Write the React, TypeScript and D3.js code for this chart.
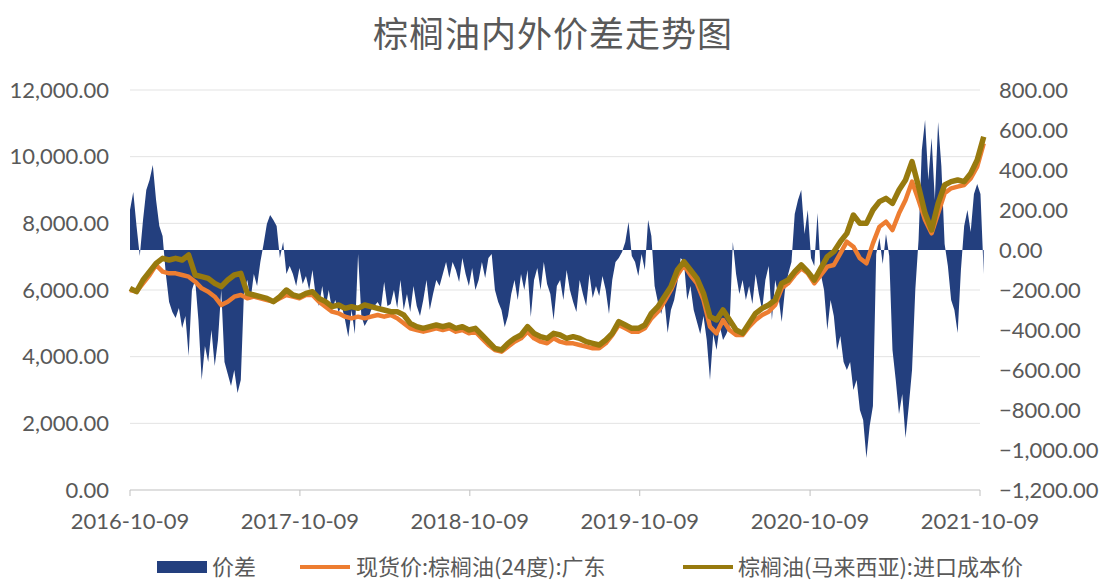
import React from "react";
import * as d3 from "d3";

const title = "棕榈油内外价差走势图";
const seriesNames = ["价差", "现货价:棕榈油(24度):广东", "棕榈油(马来西亚):进口成本价"];
const startDate = "2016-10-09";
const endDate = "2021-10-09";
const xTickLabels = ["2016-10-09", "2017-10-09", "2018-10-09", "2019-10-09", "2020-10-09", "2021-10-09"];
const leftTicks = [0, 2000, 4000, 6000, 8000, 10000, 12000];
const rightTicks = [-1200, -1000, -800, -600, -400, -200, 0, 200, 400, 600, 800];

// weekly spread (价差), right axis
const spread = [
  200, 290, 120, -30, 150, 300, 350, 425, 250, 120,
  70, -120, -260, -310, -340, -290, -390, -330, -530, -200,
  -150, -350, -650, -480, -560, -400, -580, -450, -200, -560,
  -620, -680, -600, -715, -650, -200, -150, -250, -120, -180,
  -60, 30, 130, 175, 150, 120, -40, 40, -120, -80,
  -120, -180, -90, -170, -130, -200, -100, -230, -280, -180,
  -290, -200, -300, -250, -310, -280, -350, -435, -300, -420,
  -20, -330, -380, -350, -300, -280, -260, -290, -160, -280,
  -270, -200, -290, -150, -300, -220, -310, -180, -280, -330,
  -250, -150, -300, -220, -150, -180, -120, -60, -140, -60,
  -100, -160, -40, -120, -180, -90, -200, -150, -60, -140,
  -40, -20, -200, -260, -300, -385, -330, -220, -150, -250,
  -120, -200, -100, -335, -150, -90, -200, -60, -170, -220,
  -350, -180, -150, -250, -100, -200, -260, -310, -150, -220,
  -280, -120, -240, -180, -230, -130, -200, -320, -150, -60,
  -40, -10, 40, 140, -30, -60, -130, -20, -100, 150,
  70, -180, -260, -320, -250, -415, -300, -250, -160, -40,
  -60, -250, -180, -300, -360, -420, -330, -450, -650, -420,
  -500, -380, -450, -420, -380, 40, -120, -220, -150, -250,
  -180, -270, -120, -220, -300, -150, -80, -350, -150, -230,
  -360, -200, -120, -60, 180, 250, 300, 80, 200, -40,
  -80, 185, -120, -200, -400, -250, -330, -500, -430, -560,
  -600, -560, -700, -650, -800, -850, -1040, -880, -780, -20,
  60, -70, 80, -30, -500, -650, -820, -720, -940, -780,
  -600, -200, 50, 500, 650, 350, 560, 250, 640, 420,
  30, -80, -250, -300, -415, -100, 120, 200, 90, 280,
  330, 280, -120,
];

// biweekly spot price Guangdong 24° palm oil, left axis
const spotGuangdong = [
  6000, 5950, 6200, 6450, 6750, 6550, 6500, 6500, 6450, 6400,
  6250, 6050, 5950, 5800, 5550, 5650, 5800, 5850, 5750, 5800,
  5750, 5700, 5650, 5750, 5850, 5800, 5750, 5850, 5850, 5650,
  5500, 5350, 5300, 5200, 5150, 5200, 5150, 5200, 5250, 5200,
  5250, 5150, 5000, 4850, 4800, 4750, 4800, 4850, 4800, 4850,
  4750, 4800, 4700, 4750, 4550, 4350, 4200, 4150, 4300, 4450,
  4550, 4750, 4550, 4450, 4400, 4550, 4450, 4400, 4400, 4350,
  4300, 4250, 4250, 4400, 4650, 4950, 4850, 4750, 4750, 4850,
  5150, 5350, 5650, 6000, 6450, 6750, 6450, 6200, 5700, 4900,
  4700, 5100, 4800, 4650, 4650, 4900, 5100, 5250, 5350, 5550,
  6050, 6200, 6450, 6650, 6500, 6200, 6450, 6700, 6750, 7100,
  7450, 7300, 6950, 6800, 7400, 7900, 8050, 7800, 8300, 8700,
  9250, 8700, 8100, 7700, 8300, 8900, 9050, 9100, 9150, 9350,
  9700, 10400,
];

// biweekly import cost Malaysian palm oil, left axis
const importCost = [
  6050, 5950, 6300, 6550, 6800, 6950, 6900, 6950, 6900, 7050,
  6450, 6400, 6350, 6200, 6100, 6300, 6450, 6500, 5900, 5850,
  5800, 5750, 5650, 5800, 6000, 5850, 5800, 5900, 5950, 5750,
  5650, 5500, 5550, 5450, 5500, 5450, 5550, 5500, 5450, 5400,
  5350, 5350, 5250, 5000, 4900, 4850, 4900, 4950, 4900, 4950,
  4850, 4900, 4800, 4850, 4650, 4450, 4250, 4200, 4400, 4550,
  4650, 4900, 4700, 4600, 4550, 4700, 4650, 4550, 4600, 4550,
  4450, 4400, 4350, 4500, 4700, 5050, 4950, 4850, 4850, 4950,
  5300, 5500, 5800, 6100, 6600, 6850, 6600, 6350, 5900, 5200,
  5100, 5400, 5100, 4800, 4700, 5000, 5300, 5450, 5550, 5700,
  6200, 6300, 6550, 6750, 6550, 6300, 6650, 7000, 7150, 7450,
  7700, 8250, 8000, 8000, 8400, 8650, 8750, 8600, 9000, 9300,
  9850, 9100, 8300, 7800, 8600, 9150, 9250, 9300, 9250, 9500,
  9900, 10600,
];

const W = 1101;
const H = 581;
const M = { left: 130, right: 980, top: 90, bottom: 490 };
const numFont = "Lato, 'Liberation Sans', 'Noto Sans CJK SC', sans-serif";
const cjkFont = "'Noto Sans CJK SC', Lato, sans-serif";

export default function App() {
  const parse = d3.timeParse("%Y-%m-%d");
  const t0 = parse(startDate)!;
  const t1 = parse(endDate)!;
  const x = d3.scaleTime().domain([t0, t1]).range([M.left, M.right]);
  const yL = d3.scaleLinear().domain([0, 12000]).range([M.bottom, M.top]);
  const yR = d3.scaleLinear().domain([-1200, 800]).range([M.bottom, M.top]);

  const spreadData = spread.map((v, i) => ({ d: d3.timeWeek.offset(t0, i), v }));
  const spotData = spotGuangdong.map((v, i) => ({ d: d3.timeWeek.offset(t0, i * 2), v }));
  const costData = importCost.map((v, i) => ({ d: d3.timeWeek.offset(t0, i * 2), v }));

  const area = d3
    .area<{ d: Date; v: number }>()
    .x((p) => x(p.d))
    .y0(yR(0))
    .y1((p) => yR(p.v));
  const line = d3
    .line<{ d: Date; v: number }>()
    .x((p) => x(p.d))
    .y((p) => yL(p.v));

  const fmt = d3.format(",.2f");
  const xTicks = xTickLabels.map((s) => parse(s)!);

  const navy = "#233F7E";
  const orange = "#ED7D31";
  const olive = "#977A0E";

  return (
    <svg width={W} height={H} style={{ position: "absolute", left: 0, top: 0, background: "#fff" }}>
      <text x={553} y={47} textAnchor="middle" fontFamily={cjkFont} fontSize={35} fill="#595959" letterSpacing={1}>
        {title}
      </text>
      {leftTicks.map((t) => (
        <line key={"g" + t} x1={M.left} x2={M.right} y1={yL(t)} y2={yL(t)} stroke={t === 0 ? "#BFBFBF" : "#E3E3E3"} strokeWidth={1} />
      ))}
      {xTicks.map((t, i) => (
        <line key={"xt" + i} x1={x(t)} x2={x(t)} y1={M.bottom} y2={M.bottom + 6} stroke="#BFBFBF" />
      ))}
      <path d={area(spreadData)!} fill={navy} />
      <path d={line(spotData)!} fill="none" stroke={orange} strokeWidth={4.5} strokeLinejoin="round" />
      <path d={line(costData)!} fill="none" stroke={olive} strokeWidth={5.5} strokeLinejoin="round" />
      {leftTicks.map((t) => (
        <text key={"l" + t} x={109} y={yL(t)} dy="0.35em" textAnchor="end" fontFamily={numFont} fontSize={22} fill="#595959">
          {fmt(t)}
        </text>
      ))}
      {rightTicks.map((t) => (
        <text key={"r" + t} x={999} y={yR(t)} dy="0.35em" textAnchor="start" fontFamily={numFont} fontSize={22} fill="#595959">
          {fmt(t)}
        </text>
      ))}
      {xTicks.map((t, i) => (
        <text key={"xl" + i} x={x(t)} y={521} dy="0.35em" textAnchor="middle" fontFamily={numFont} fontSize={22} fill="#595959">
          {xTickLabels[i]}
        </text>
      ))}
      <g fontFamily={cjkFont} fontSize={22} fill="#595959">
        <rect x={157} y={561} width={50} height={12} fill={navy} />
        <text x={212} y={567} dy="0.35em">{seriesNames[0]}</text>
        <line x1={300} x2={350} y1={567} y2={567} stroke={orange} strokeWidth={4} />
        <text x={356} y={567} dy="0.35em">{seriesNames[1]}</text>
        <line x1={683} x2={733} y1={567} y2={567} stroke={olive} strokeWidth={4} />
        <text x={738} y={567} dy="0.35em">{seriesNames[2]}</text>
      </g>
    </svg>
  );
}
